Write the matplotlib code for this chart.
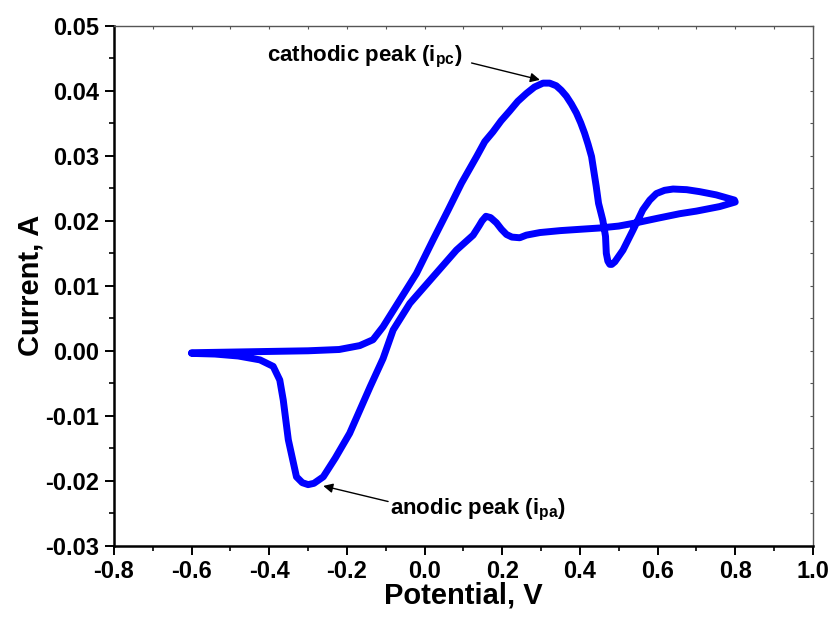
import matplotlib
matplotlib.use('Agg')
import matplotlib.pyplot as plt
from matplotlib.ticker import MultipleLocator, FormatStrFormatter

#fonts: bold arial-like everywhere, subscripts through mathtext
plt.rcParams['font.family'] = ['Liberation Sans', 'DejaVu Sans']
plt.rcParams['font.weight'] = 'bold'
plt.rcParams['mathtext.fontset'] = 'custom'
plt.rcParams['mathtext.rm'] = 'Liberation Sans:bold'
plt.rcParams['mathtext.bf'] = 'Liberation Sans:bold'
plt.rcParams['mathtext.it'] = 'Liberation Sans:bold'

#cyclic voltammogram, in scan order
#forward scan: -0.6 V -> 0.8 V
fwd_potential = [-0.600, -0.500, -0.400, -0.300, -0.220, -0.167, -0.133, -0.107,
                 -0.064, -0.021, 0.022, 0.061, 0.095, 0.134, 0.155, 0.176,
                 0.197, 0.219, 0.240, 0.262, 0.283, 0.305, 0.322, 0.339,
                 0.352, 0.365, 0.378, 0.391, 0.402, 0.412, 0.421, 0.430,
                 0.442, 0.448, 0.459, 0.466, 0.468, 0.472, 0.477, 0.482,
                 0.490, 0.511, 0.537, 0.562, 0.580, 0.597, 0.618, 0.640,
                 0.675, 0.708, 0.751, 0.798]
fwd_current = [-0.0003, -0.0002, -0.0001, 0.0000, 0.0002, 0.0008, 0.0017, 0.0037,
               0.0078, 0.0119, 0.0171, 0.0217, 0.0258, 0.0299, 0.0322, 0.0337,
               0.0354, 0.0369, 0.0384, 0.0396, 0.0406, 0.0412, 0.0412, 0.0408,
               0.0401, 0.0392, 0.0380, 0.0366, 0.0351, 0.0335, 0.0318, 0.0299,
               0.0253, 0.0227, 0.0201, 0.0176, 0.0150, 0.0138, 0.0133, 0.0133,
               0.0137, 0.0155, 0.0186, 0.0217, 0.0232, 0.0242, 0.0247, 0.0249,
               0.0248, 0.0245, 0.0240, 0.0232]

#reverse scan: 0.8 V -> -0.6 V
rev_potential = [0.800, 0.760, 0.700, 0.657, 0.600, 0.545, 0.500, 0.451,
                 0.400, 0.350, 0.297, 0.262, 0.245, 0.225, 0.211, 0.198,
                 0.185, 0.170, 0.158, 0.148, 0.140, 0.125, 0.082, 0.022,
                 -0.038, -0.081, -0.107, -0.140, -0.193, -0.230, -0.261, -0.285,
                 -0.300, -0.315, -0.330, -0.351, -0.364, -0.373, -0.390, -0.424,
                 -0.480, -0.540, -0.600]
rev_current = [0.0229, 0.0222, 0.0215, 0.0211, 0.0204, 0.0197, 0.0192, 0.0189,
               0.0187, 0.0185, 0.0182, 0.0178, 0.0174, 0.0175, 0.0179, 0.0187,
               0.0197, 0.0205, 0.0207, 0.0200, 0.0192, 0.0178, 0.0155, 0.0114,
               0.0073, 0.0032, -0.0012, -0.0055, -0.0127, -0.0165, -0.0194, -0.0204,
               -0.0206, -0.0203, -0.0194, -0.0137, -0.0076, -0.0045, -0.0024, -0.0014,
               -0.0008, -0.0005, -0.0004]

#peaks pointed at by the labels
cathodic_peak = (0.297, 0.0417)
anodic_peak = (-0.261, -0.0208)


def draw():
  fig = plt.figure(figsize=(8.32, 6.18), dpi=100)
  ax = fig.add_axes([0.137, 0.117, 0.840, 0.841])

  ax.plot(fwd_potential + rev_potential, fwd_current + rev_current,
          color='#0000ff', lw=5.0, solid_joinstyle='round', solid_capstyle='round')

  ax.set_xlim(-0.8, 1.0)
  ax.set_ylim(-0.03, 0.05)
  ax.xaxis.set_major_locator(MultipleLocator(0.2))
  ax.xaxis.set_minor_locator(MultipleLocator(0.1))
  ax.yaxis.set_major_locator(MultipleLocator(0.01))
  ax.yaxis.set_minor_locator(MultipleLocator(0.005))
  ax.xaxis.set_major_formatter(FormatStrFormatter('%.1f'))
  ax.yaxis.set_major_formatter(FormatStrFormatter('%.2f'))

  #thick left/bottom frame, thin grey top/right frame
  for side in ['left', 'bottom']:
    ax.spines[side].set_linewidth(1.8)
  for side in ['top', 'right']:
    ax.spines[side].set_linewidth(1.0)
    ax.spines[side].set_color('#555555')

  ax.tick_params(which='major', direction='out', length=6.5, width=1.4,
                 labelsize=17, pad=4)
  ax.tick_params(which='minor', direction='out', length=3.5, width=1.2)

  #tiny inward ticks on top and right
  top = ax.secondary_xaxis('top')
  top.xaxis.set_major_locator(MultipleLocator(0.1))
  top.tick_params(direction='in', length=2, width=0.8, labeltop=False, colors='#555555')
  top.spines['top'].set_visible(False)
  right = ax.secondary_yaxis('right')
  right.yaxis.set_major_locator(MultipleLocator(0.005))
  right.tick_params(direction='in', length=2, width=0.8, labelright=False, colors='#555555')
  right.spines['right'].set_visible(False)

  ax.set_xlabel('Potential, V', fontsize=21, fontweight='bold', labelpad=-1)
  ax.set_ylabel('Current, A', fontsize=21, fontweight='bold', labelpad=1)

  #peak annotations
  ax.text(-0.406, 0.0445, 'cathodic peak (' + r'$\mathbf{i_{pc}}$' + ')',
          fontsize=16, fontweight='bold', ha='left', va='baseline')
  ax.annotate('', xy=cathodic_peak, xytext=(0.121, 0.0443),
              arrowprops=dict(arrowstyle='-|>', color='black', lw=1.0,
                              mutation_scale=14, shrinkA=0, shrinkB=0))
  ax.text(-0.088, -0.0252, 'anodic peak (' + r'$\mathbf{i_{pa}}$' + ')',
          fontsize=16, fontweight='bold', ha='left', va='baseline')
  ax.annotate('', xy=anodic_peak, xytext=(-0.094, -0.0232),
              arrowprops=dict(arrowstyle='-|>', color='black', lw=1.0,
                              mutation_scale=14, shrinkA=0, shrinkB=0))

  fig.savefig('out.png', dpi=100)


if __name__ == '__main__':
  draw()
